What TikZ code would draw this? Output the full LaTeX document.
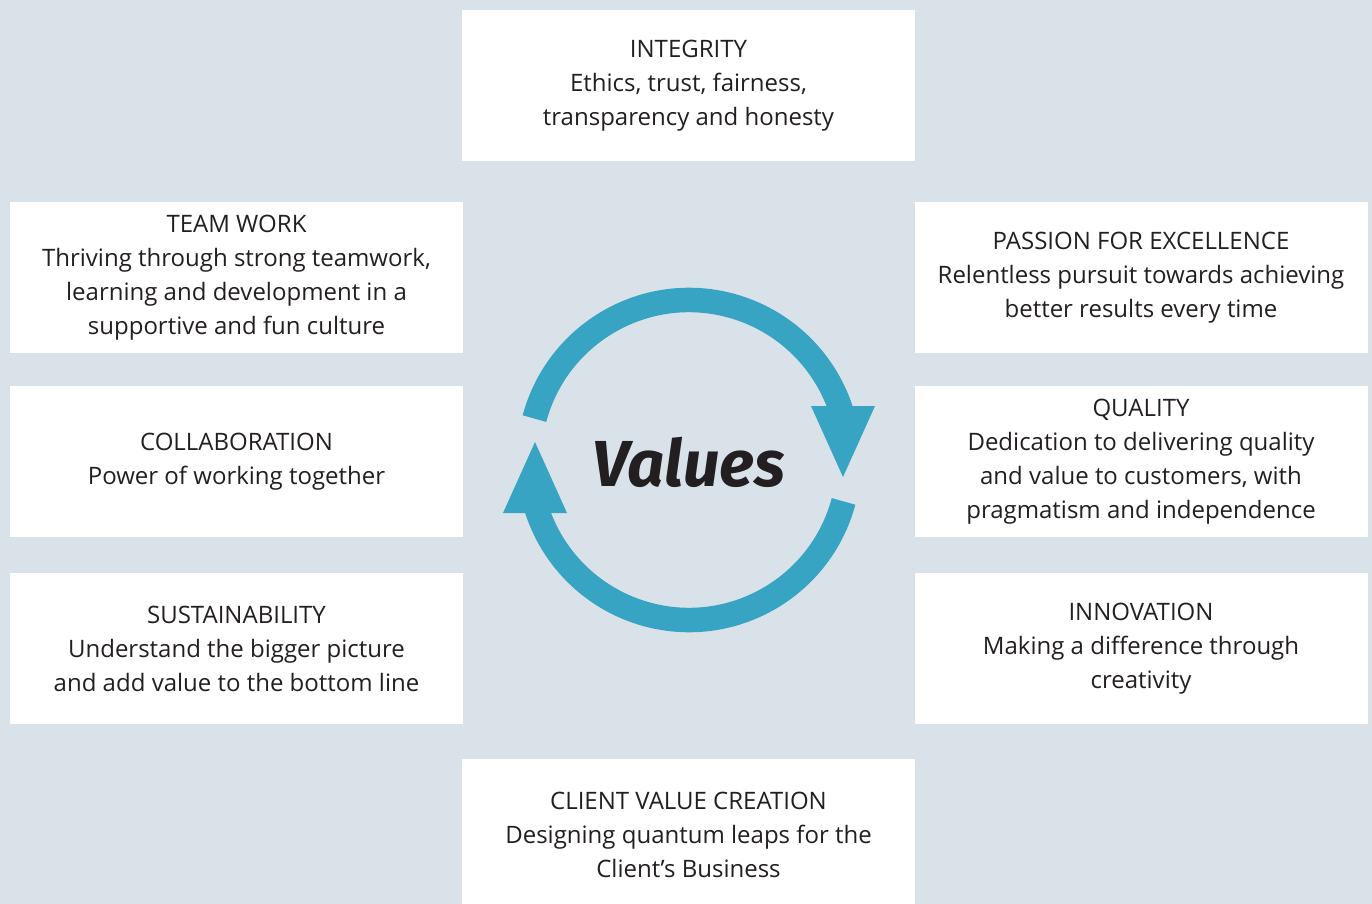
\documentclass[tikz,border=0pt]{standalone}
\usepackage{fontspec}
\setmainfont{Open Sans}
\newfontfamily\valuesfont{Fira Sans}
\usetikzlibrary{positioning}
\definecolor{bgblue}{HTML}{D9E2E9}
\definecolor{cyclecol}{HTML}{36A4C2}
\definecolor{inkcol}{HTML}{231F20}

\begin{document}
\begin{tikzpicture}[x=0.5pt,y=-0.5pt,thin]
\tikzstyle{every node}=[text=inkcol]
\tikzstyle{valuebox}=[fill=white,draw=none,minimum width=226.5pt,minimum height=75.5pt,inner sep=0pt,align=center,font=\fontsize{12}{17}\selectfont]
\tikzstyle{band}=[draw=cyclecol,line width=12.25pt]

\fill[bgblue] (0,0) rectangle (1372,904);
\clip (0,0) rectangle (1372,904);

%\node[valuebox] (X) at (688.5,460) {};
\node[valuebox] (I) at (688.5,85.5) {INTEGRITY\\Ethics, trust, fairness,\\transparency and honesty};
\node[valuebox] (T) at (236.5,277.5) {TEAM WORK\\Thriving through strong teamwork,\\learning and development in a\\supportive and fun culture};
\node[valuebox] (C) [below of=T,node distance=92pt] {COLLABORATION\\Power of working together};
\node[valuebox] (S) [below of=C,node distance=93.5pt] {SUSTAINABILITY\\Understand the bigger picture\\and add value to the bottom line};
\node[valuebox] (P) [right of=T,node distance=452.25pt] {PASSION FOR EXCELLENCE\\Relentless pursuit towards achieving\\better results every time};
\node[valuebox] (Q) [right of=C,node distance=452.25pt] {QUALITY\\Dedication to delivering quality\\and value to customers, with\\pragmatism and independence};
\node[valuebox] (N) [right of=S,node distance=452.25pt] {INNOVATION\\Making a difference through\\creativity};
\node[valuebox] (B) at (688.5,834.5) {CLIENT VALUE CREATION\\Designing quantum leaps for the\\Client's Business};

% the cycle
\coordinate (O) at (689,460);
\node (V) at (689,462) {\valuesfont\fontsize{32.5}{40}\selectfont\bfseries\itshape Values};

\draw[band] (O) ++(-165:160) arc[start angle=-165,end angle=-17,radius=160];
\fill[cyclecol] (811,406) -- (875,406) -- (843,477) -- cycle;
\draw[band] (O) ++(15:160) arc[start angle=15,end angle=163,radius=160];
\fill[cyclecol] (503,513) -- (567,513) -- (535,442) -- cycle;
\end{tikzpicture}
\end{document}
